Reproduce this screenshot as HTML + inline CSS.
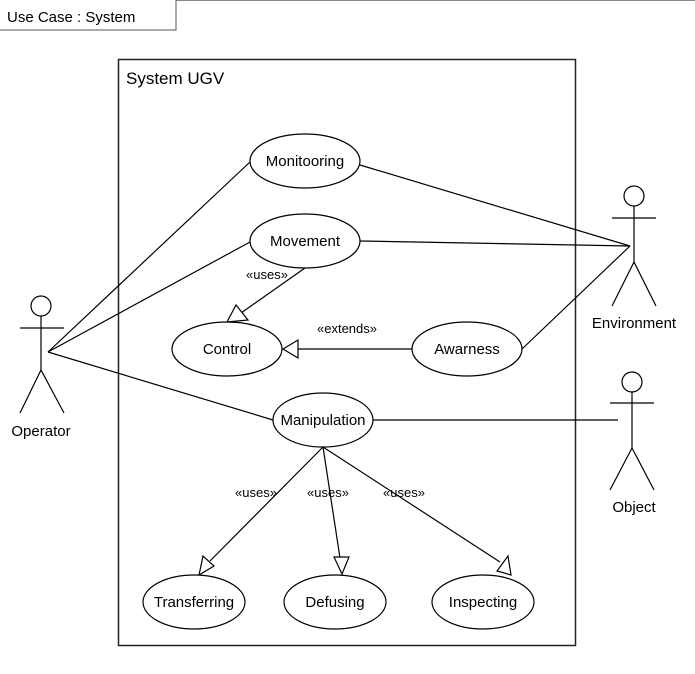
<!DOCTYPE html>
<html><head><style>body{margin:0;background:#fff}svg{display:block}text{font-family:"Liberation Sans",sans-serif;fill:#000}</style></head><body>
<svg width="695" height="674" viewBox="0 0 695 674" xmlns="http://www.w3.org/2000/svg">
<rect x="-1" y="-1" width="696" height="676" fill="#fff"/>
<line x1="176" y1="0.5" x2="695" y2="0.5" stroke="#888"/>
<rect x="-1" y="-1" width="177" height="31" fill="#fff" stroke="#555"/>
<text x="7" y="22" font-size="15">Use Case : System</text>
<rect x="118.5" y="59.5" width="457" height="586" fill="none" stroke="#222" stroke-width="1.5"/>
<text x="126" y="84" font-size="17">System UGV</text>
<g stroke="#000" stroke-width="1.2" fill="none">
<line x1="48" y1="352" x2="250" y2="162"/>
<line x1="48" y1="352" x2="250" y2="242"/>
<line x1="48" y1="352" x2="273" y2="420"/>
<line x1="360" y1="165" x2="630" y2="246"/>
<line x1="360" y1="241" x2="630" y2="246"/>
<line x1="522" y1="349" x2="630" y2="246"/>
<line x1="373" y1="420" x2="618" y2="420"/>
<line x1="305" y1="268" x2="241" y2="313"/>
<polygon points="227,322 236,305 248,320" fill="#fff"/>
<line x1="412" y1="349" x2="298" y2="349"/>
<polygon points="283,349 298,340 298,358" fill="#fff"/>
<line x1="323" y1="447" x2="210" y2="561"/>
<polygon points="199,575 203,556 214,566" fill="#fff"/>
<line x1="323" y1="447" x2="340" y2="558"/>
<polygon points="334,557 349,557 342,574" fill="#fff"/>
<line x1="323" y1="447" x2="500" y2="562"/>
<polygon points="511,575 497,571 508,556" fill="#fff"/>
<ellipse cx="305" cy="161" rx="55" ry="27" fill="#fff"/>
<ellipse cx="305" cy="241" rx="55" ry="27" fill="#fff"/>
<ellipse cx="227" cy="349" rx="55" ry="27" fill="#fff"/>
<ellipse cx="467" cy="349" rx="55" ry="27" fill="#fff"/>
<ellipse cx="323" cy="420" rx="50" ry="27" fill="#fff"/>
<ellipse cx="194" cy="602" rx="51" ry="27" fill="#fff"/>
<ellipse cx="335" cy="602" rx="51" ry="27" fill="#fff"/>
<ellipse cx="483" cy="602" rx="51" ry="27" fill="#fff"/>
<circle cx="41" cy="306" r="10"/><line x1="41" y1="316" x2="41" y2="370"/><line x1="20" y1="328" x2="64" y2="328"/><polyline points="20,413 41,370 64,413"/>
<circle cx="634" cy="196" r="10"/><line x1="634" y1="206" x2="634" y2="262"/><line x1="612" y1="218" x2="656" y2="218"/><polyline points="612,306 634,262 656,306"/>
<circle cx="632" cy="382" r="10"/><line x1="632" y1="392" x2="632" y2="448"/><line x1="610" y1="403" x2="654" y2="403"/><polyline points="610,490 632,448 654,490"/>
</g>
<g font-size="15" text-anchor="middle">
<text x="305" y="166">Monitooring</text>
<text x="305" y="246">Movement</text>
<text x="227" y="354">Control</text>
<text x="467" y="354">Awarness</text>
<text x="323" y="425">Manipulation</text>
<text x="194" y="607">Transferring</text>
<text x="335" y="607">Defusing</text>
<text x="483" y="607">Inspecting</text>
<text x="41" y="436">Operator</text>
<text x="634" y="328">Environment</text>
<text x="634" y="512">Object</text>
</g>
<g font-size="13" text-anchor="middle">
<text x="267" y="279">«uses»</text>
<text x="347" y="333">«extends»</text>
<text x="256" y="497">«uses»</text>
<text x="328" y="497">«uses»</text>
<text x="404" y="497">«uses»</text>
</g>
</svg>
</body></html>
